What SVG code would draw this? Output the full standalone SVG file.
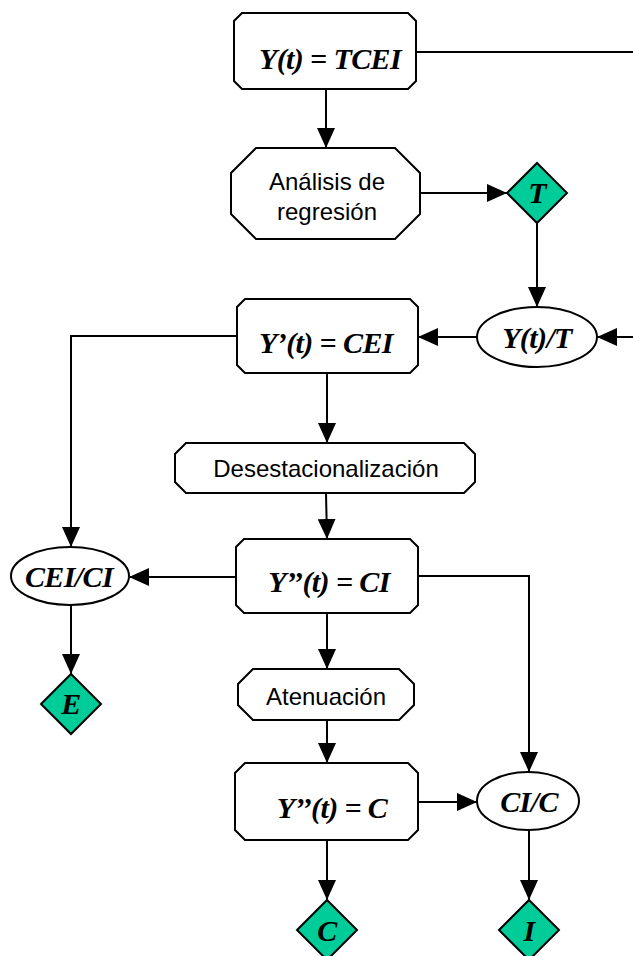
<svg xmlns="http://www.w3.org/2000/svg" width="633" height="956" viewBox="0 0 633 956">
<style>
.node{fill:#fff;stroke:#000;stroke-width:2}
.dia{fill:#00CC99;stroke:#000;stroke-width:2}
.eq{font-family:"Liberation Serif","Times New Roman",serif;font-weight:bold;font-style:italic;font-size:30px;letter-spacing:-0.6px;fill:#000;text-anchor:middle}
.lbl{font-family:"Liberation Sans",Arial,sans-serif;font-size:24px;fill:#000;text-anchor:middle}
.con{fill:none;stroke:#000;stroke-width:2}
.arr{marker-end:url(#ah)}
</style>
<defs>
<marker id="ah" markerUnits="userSpaceOnUse" markerWidth="20" markerHeight="18" viewBox="0 0 20 18" refX="20" refY="9" orient="auto">
<path d="M0,0 L20,9 L0,18 Z" fill="#000"/>
</marker>
</defs>
<rect width="633" height="956" fill="#fff"/>
<g id="connectors">
<path class="con arr" d="M326,89 V148"/>
<path class="con" d="M416,52 H633"/>
<path class="con arr" d="M420,193 H507"/>
<path class="con arr" d="M537,223 V307"/>
<path class="con arr" d="M633,337 H597"/>
<path class="con arr" d="M477,337 H418"/>
<path class="con arr" d="M237,336 H71 V547"/>
<path class="con arr" d="M327,373 V443"/>
<path class="con arr" d="M326,493 L327,539"/>
<path class="con arr" d="M236,577 H129"/>
<path class="con arr" d="M71,605 V674"/>
<path class="con arr" d="M418,576 H529 V772"/>
<path class="con arr" d="M327,613 V669"/>
<path class="con arr" d="M327,720 V763"/>
<path class="con arr" d="M418,802 H477"/>
<path class="con arr" d="M327,840 V900"/>
<path class="con arr" d="M529,830 V900"/>
</g>
<g id="n-ytcei">
<path class="node" d="M242,13 L408,13 L416,21 L416,81 L408,89 L242,89 L234,81 L234,21 Z"/>
<text class="eq" x="330" y="69">Y(t) = TCEI</text>
</g>
<g id="n-analisis">
<path class="node" d="M256,148 L395,148 L420,173 L420,214 L395,239 L256,239 L231,214 L231,173 Z"/>
<text class="lbl" x="327" y="190">Análisis de</text>
<text class="lbl" x="327" y="220">regresión</text>
</g>
<g id="n-t">
<path class="dia" d="M537,163 L567,193 L537,223 L507,193 Z"/>
<text class="eq" x="537" y="203">T</text>
</g>
<g id="n-ytt">
<ellipse class="node" cx="537" cy="337" rx="60" ry="30"/>
<text class="eq" x="537" y="348">Y(t)/T</text>
</g>
<g id="n-ycei">
<path class="node" d="M245,299 L410,299 L418,307 L418,365 L410,373 L245,373 L237,365 L237,307 Z"/>
<text class="eq" x="326" y="353">Y’(t) = CEI</text>
</g>
<g id="n-desest">
<path class="node" d="M186,443 L464,443 L475,454 L475,482 L464,493 L186,493 L175,482 L175,454 Z"/>
<text class="lbl" x="326" y="477">Desestacionalización</text>
</g>
<g id="n-yci">
<path class="node" d="M244,539 L410,539 L418,547 L418,605 L410,613 L244,613 L236,605 L236,547 Z"/>
<text class="eq" x="329" y="592">Y’’(t) = CI</text>
</g>
<g id="n-ceici">
<ellipse class="node" cx="70" cy="576" rx="59" ry="29"/>
<text class="eq" x="69" y="587">CEI/CI</text>
</g>
<g id="n-e">
<path class="dia" d="M71,674 L101,704 L71,734 L41,704 Z"/>
<text class="eq" x="71" y="714">E</text>
</g>
<g id="n-atenuacion">
<path class="node" d="M253,669 L399,669 L414,684 L414,705 L399,720 L253,720 L238,705 L238,684 Z"/>
<text class="lbl" x="326" y="705">Atenuación</text>
</g>
<g id="n-yc">
<path class="node" d="M245,763 L408,763 L418,773 L418,830 L408,840 L245,840 L235,830 L235,773 Z"/>
<text class="eq" x="332" y="818">Y’’(t) = C</text>
</g>
<g id="n-cic">
<ellipse class="node" cx="528" cy="801" rx="51" ry="29"/>
<text class="eq" x="529" y="812">CI/C</text>
</g>
<g id="n-c">
<path class="dia" d="M327,900 L357,930 L327,960 L297,930 Z"/>
<text class="eq" x="327" y="941">C</text>
</g>
<g id="n-i">
<path class="dia" d="M529,900 L559,930 L529,960 L499,930 Z"/>
<text class="eq" x="529" y="941">I</text>
</g>
</svg>
